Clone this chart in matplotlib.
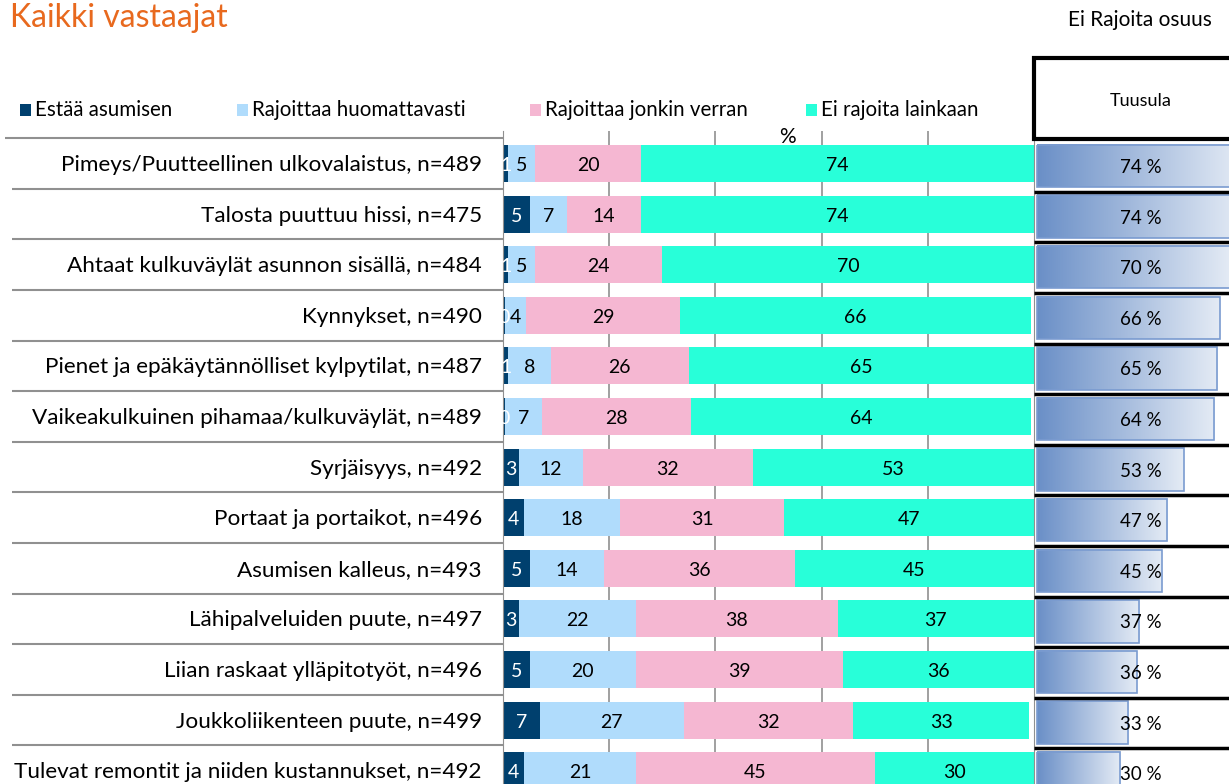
import numpy as np
import matplotlib.pyplot as plt
from matplotlib.patches import Rectangle
from matplotlib.colors import LinearSegmentedColormap

plt.rcParams['font.family'] = ['Lato', 'DejaVu Sans']

# data
categories = [
    "Pimeys/Puutteellinen ulkovalaistus, n=489",
    "Talosta puuttuu hissi, n=475",
    "Ahtaat kulkuväylät asunnon sisällä, n=484",
    "Kynnykset, n=490",
    "Pienet ja epäkäytännölliset kylpytilat, n=487",
    "Vaikeakulkuinen pihamaa/kulkuväylät, n=489",
    "Syrjäisyys, n=492",
    "Portaat ja portaikot, n=496",
    "Asumisen kalleus, n=493",
    "Lähipalveluiden puute, n=497",
    "Liian raskaat ylläpitotyöt, n=496",
    "Joukkoliikenteen puute, n=499",
    "Tulevat remontit ja niiden kustannukset, n=492",
]
estaa = [1, 5, 1, 0.4, 1, 0.4, 3, 4, 5, 3, 5, 7, 4]
rajoittaa_huom = [5, 7, 5, 4, 8, 7, 12, 18, 14, 22, 20, 27, 21]
rajoittaa_jonkin = [20, 14, 24, 29, 26, 28, 32, 31, 36, 38, 39, 32, 45]
ei_rajoita = [74, 74, 70, 66, 65, 64, 53, 47, 45, 37, 36, 33, 30]
tuusula = [74, 74, 70, 66, 65, 64, 53, 47, 45, 37, 36, 33, 30]

series_names = ["Estää asumisen", "Rajoittaa huomattavasti",
                "Rajoittaa jonkin verran", "Ei rajoita lainkaan"]
colors = ["#00406e", "#b0dcfc", "#f5b7d2", "#28ffd9"]
text_colors = ["white", "black", "black", "black"]

W, H = 1229, 784
fig = plt.figure(figsize=(W / 100, H / 100), dpi=100)

n = len(categories)
row_px = 50.6
first_center = 163.5
ytop, ybot = -0.65, n - 0.5
top_px = first_center + ytop * row_px
bot_px = first_center + ybot * row_px
ax_bottom = (H - bot_px) / H
ax_height = (bot_px - top_px) / H

# main stacked bars
ax = fig.add_axes([503 / W, ax_bottom, (1034 - 503) / W, ax_height])
y = np.arange(n)
left = np.zeros(n)
for vals, c, tc in zip([estaa, rajoittaa_huom, rajoittaa_jonkin, ei_rajoita],
                       colors, text_colors):
    vals = np.array(vals, dtype=float)
    ax.barh(y, vals, left=left, height=0.73, color=c, zorder=2)
    for yi, l, v in zip(y, left, vals):
        ax.text(l + v / 2, yi + 0.04, f"{v:.0f}", ha='center', va='center',
                fontsize=14, color=tc, zorder=3)
    left += vals
ax.set_xlim(0, 100)
ax.set_ylim(ybot, ytop)
for gx in [20, 40, 60, 80]:
    ax.axvline(gx, color='#909090', lw=1.2, zorder=1)
ax.set_xticks([])
ax.set_yticks([])
for s in ['top', 'bottom']:
    ax.spines[s].set_visible(False)
ax.spines['left'].set_color('#909090')
ax.spines['right'].set_color('#909090')
ax.text(53.5, -0.33, "%", ha='center', va='bottom', fontsize=15, zorder=3)

# category labels panel
ax_l = fig.add_axes([0, ax_bottom, 503 / W, ax_height])
ax_l.set_xlim(0, 503)
ax_l.set_ylim(ybot, ytop)
ax_l.axis('off')
for i, cat in enumerate(categories):
    ax_l.text(482, i + 0.03, cat, ha='right', va='center', fontsize=16.2)
    ax_l.hlines(i - 0.5, 5 if i == 0 else 12, 503, color='#909090', lw=1.5)

# right panel: Tuusula share
ax_r = fig.add_axes([1034 / W, ax_bottom, (W - 1034) / W, ax_height])
ax_r.axis('off')
px_per = 2.77
xmin = -3 / px_per
xmax = xmin + (W - 1034) / px_per
cmap = LinearSegmentedColormap.from_list('grad', ['#6a8fc7', '#e4ebf5'])
grad = np.linspace(0, 1, 256).reshape(1, -1)
for i, v in enumerate(tuusula):
    ax_r.imshow(grad, cmap=cmap, aspect='auto',
                extent=[0, v, i + 0.47, i - 0.37], zorder=1)
    ax_r.add_patch(Rectangle((0, i - 0.37), v, 0.84, fill=False,
                             edgecolor='#7a9bd0', lw=1.2, zorder=2))
    ax_r.text((1141 - 1037) / px_per, i + 0.08, f"{v} %", ha='center',
              va='center', fontsize=13.5, zorder=3)
    if i < n - 1:
        ax_r.hlines(i + 0.56, xmin, xmax, color='black', lw=2.5, zorder=4)
ax_r.set_xlim(xmin, xmax)
ax_r.set_ylim(ybot, ytop)

# header box
fig.patches.append(Rectangle((1034 / W, (H - 139) / H), 210 / W, 81 / H,
                             transform=fig.transFigure, facecolor='white',
                             edgecolor='black', lw=3, clip_on=False))
fig.text(1141 / W, (H - 101) / H, "Tuusula", ha='center', va='center',
         fontsize=13)

# titles
fig.text(10 / W, (H - 18) / H, "Kaikki vastaajat", ha='left', va='center',
         fontsize=23, color='#e8691e')
fig.text(1212 / W, (H - 20) / H, "Ei Rajoita osuus", ha='right',
         va='center', fontsize=15)

# legend
leg_x = [20, 237, 530, 806]
for lx, name, c in zip(leg_x, series_names, colors):
    fig.patches.append(Rectangle((lx / W, (H - 116) / H), 11 / W, 12 / H,
                                 transform=fig.transFigure, facecolor=c,
                                 edgecolor='none'))
    fig.text((lx + 15) / W, (H - 110) / H, name, ha='left', va='center',
             fontsize=14.8)

fig.savefig("out.png", dpi=100)
